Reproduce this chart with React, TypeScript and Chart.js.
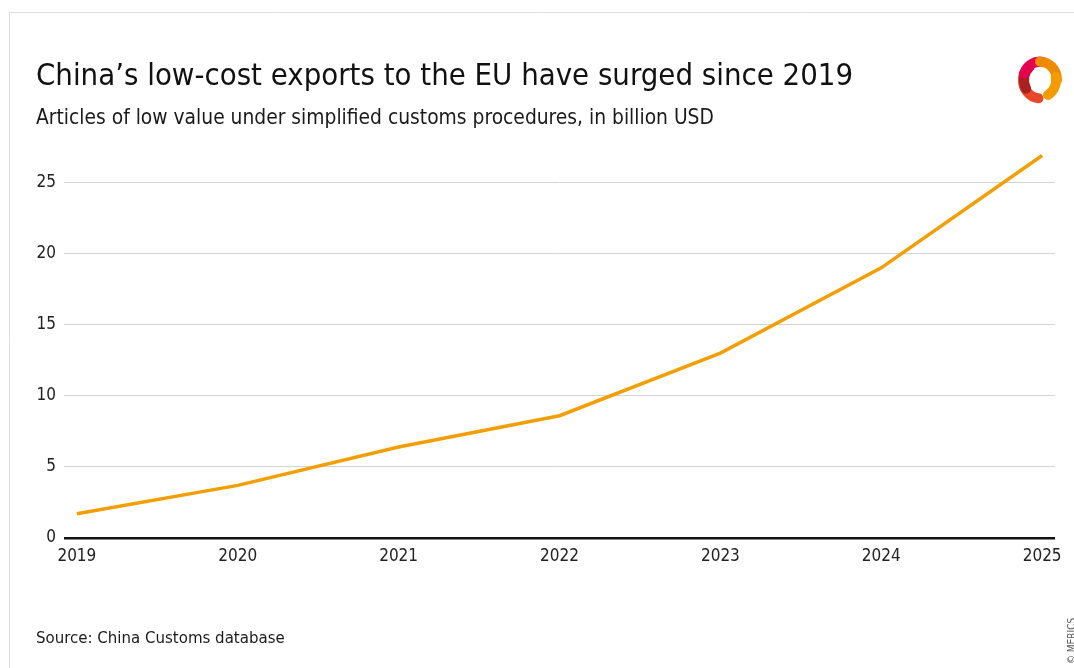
import React, { useEffect, useRef } from 'react';
import { Chart, registerables } from 'chart.js';

Chart.register(...registerables);

const years = [2019, 2020, 2021, 2022, 2023, 2024, 2025];
const values = [1.7, 3.7, 6.4, 8.6, 13.0, 19.0, 26.9];
const yTicks = [0, 5, 10, 15, 20, 25];
const titleText = 'China’s low-cost exports to the EU have surged since 2019';
const subtitleText = 'Articles of low value under simplified customs procedures, in billion USD';
const sourceText = 'Source: China Customs database';
const creditText = '© MERICS';

const FONT = '"DejaVu Sans Condensed", "DejaVu Sans", sans-serif';

const decorPlugin = {
  id: 'decor',
  beforeDraw(chart: any) {
    const ctx = chart.ctx;
    ctx.save();
    ctx.fillStyle = '#ffffff';
    ctx.fillRect(0, 0, chart.width, chart.height);
    ctx.strokeStyle = '#dedede';
    ctx.lineWidth = 1;
    ctx.beginPath();
    ctx.moveTo(9.5, chart.height);
    ctx.lineTo(9.5, 12.5);
    ctx.lineTo(chart.width, 12.5);
    ctx.stroke();
    ctx.restore();
  },
  afterDraw(chart: any) {
    const ctx = chart.ctx;
    ctx.save();
    ctx.fillStyle = '#111111';
    ctx.textAlign = 'left';
    ctx.textBaseline = 'alphabetic';
    ctx.font = `30.8px ${FONT}`;
    ctx.fillText(titleText, 36, 85);
    ctx.font = `20.8px ${FONT}`;
    ctx.fillStyle = '#1a1a1a';
    ctx.fillText(subtitleText, 36, 124);
    ctx.font = `16.7px ${FONT}`;
    ctx.fillText(sourceText, 36, 643);
    // credit rotated
    ctx.save();
    ctx.translate(1072, 664);
    ctx.rotate(-Math.PI / 2);
    ctx.font = `10px ${FONT}`;
    ctx.fillStyle = '#555';
    ctx.textBaseline = 'middle';
    ctx.fillText(creditText, 0, 0);
    ctx.restore();
    // logo
    const cx = 1040, cy = 80;
    ctx.lineWidth = 10;
    ctx.lineCap = 'round';
    const seg = (a0: number, a1: number, col: string, r: number) => {
      ctx.strokeStyle = col;
      ctx.beginPath();
      ctx.ellipse(cx, cy, r, r * 1.08, 0, (a0 * Math.PI) / 180, (a1 * Math.PI) / 180);
      ctx.stroke();
    };
    seg(95, 200, '#e8472a', 17);
    seg(150, 230, '#a8201f', 16);
    seg(200, 280, '#e5004f', 17);
    seg(270, 360, '#f08a00', 17);
    seg(-10, 60, '#f39c00', 16);
    ctx.restore();
  },
};

export default function App() {
  const ref = useRef<HTMLCanvasElement | null>(null);
  useEffect(() => {
    if (!ref.current) return;
    const chart = new Chart(ref.current, {
      type: 'line',
      data: {
        datasets: [
          {
            data: years.map((y, i) => ({ x: y, y: values[i] })),
            borderColor: '#f29f05',
            borderWidth: 3.5,
            pointRadius: 0,
            tension: 0,
            fill: false,
          },
        ],
      },
      options: {
        animation: false,
        responsive: false,
        devicePixelRatio: 1,
        layout: { padding: { left: 8, right: 19, top: 147, bottom: 100 } },
        plugins: { legend: { display: false }, tooltip: { enabled: false }, title: { display: false } },
        scales: {
          x: {
            type: 'linear',
            min: 2018.92,
            max: 2025.08,
            afterBuildTicks: (scale: any) => {
              scale.ticks = years.map((v) => ({ value: v }));
            },
            afterFit: (scale: any) => {
              scale.height = 30;
            },
            grid: { display: false, drawTicks: false },
            border: { display: false },
            ticks: {
              padding: 8,
              color: '#222',
              font: { family: FONT, size: 17 },
              maxRotation: 0,
              autoSkip: false,
              callback: (v: any) => String(v),
            },
          },
          y: {
            type: 'linear',
            min: 0,
            max: 27.5,
            afterBuildTicks: (scale: any) => {
              scale.ticks = yTicks.map((v) => ({ value: v }));
            },
            afterFit: (scale: any) => {
              scale.width = 56;
            },
            grid: {
              drawTicks: false,
              color: (c: any) => (c.tick && c.tick.value === 0 ? '#111111' : '#d4d4d4'),
              lineWidth: (c: any) => (c.tick && c.tick.value === 0 ? 2.5 : 1),
            },
            border: { display: false },
            ticks: {
              padding: 8,
              color: '#222',
              font: { family: FONT, size: 17 },
              callback: (v: any) => String(v),
            },
          },
        },
      },
      plugins: [decorPlugin],
    } as any);
    return () => chart.destroy();
  }, []);
  return (
    <div style={{ position: 'fixed', left: 0, top: 0, width: 1074, height: 668, background: '#fff' }}>
      <canvas ref={ref} width={1074} height={668} style={{ display: 'block' }} />
    </div>
  );
}
